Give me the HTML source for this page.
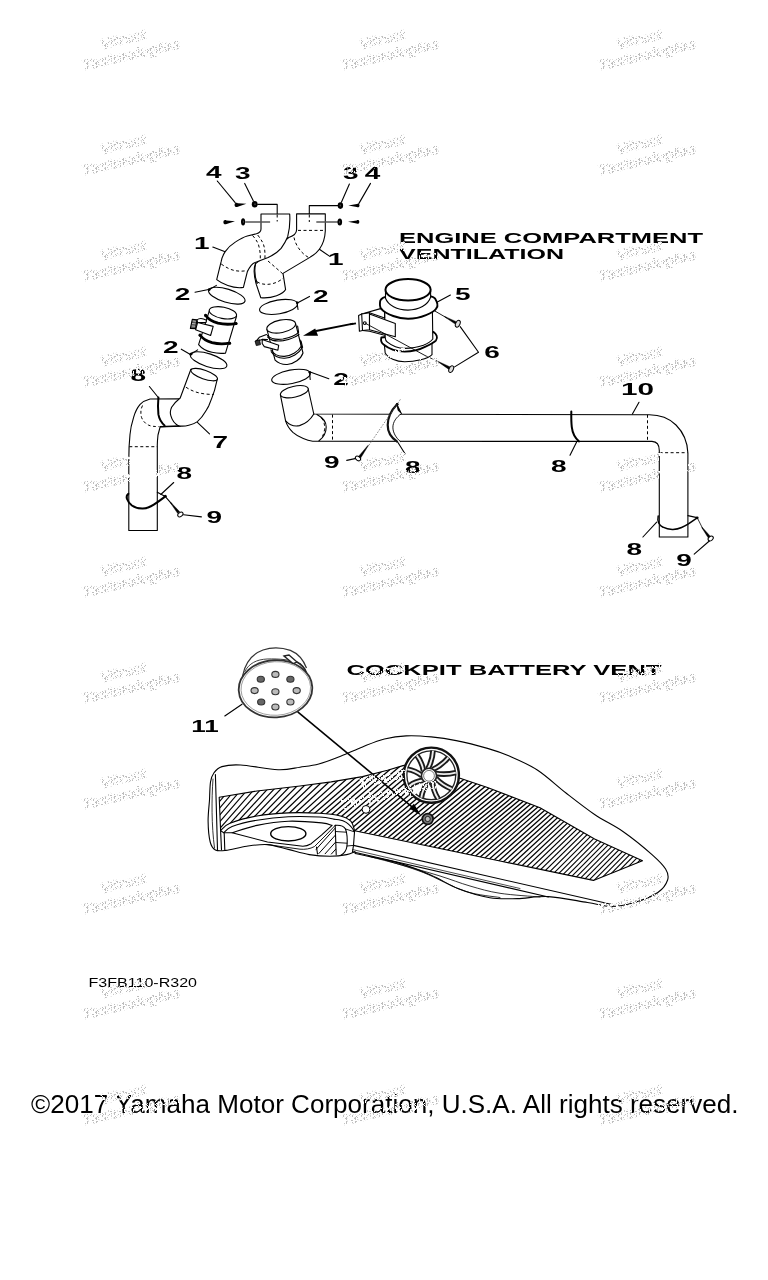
<!DOCTYPE html>
<html><head><meta charset="utf-8"><title>Engine Compartment Ventilation</title>
<style>
html,body{margin:0;padding:0;background:#fff;}
svg{display:block;filter:grayscale(1);font-family:"Liberation Sans",sans-serif;}
.l{fill:none;stroke:#000;stroke-width:1.1;stroke-linecap:round;stroke-linejoin:round;}
.t{fill:none;stroke:#000;stroke-width:2;stroke-linecap:round;stroke-linejoin:round;}
.d{fill:none;stroke:#000;stroke-width:1;stroke-dasharray:3 2.5;}
.f{fill:#fff;}
.n{font-weight:bold;font-size:16px;fill:#000;}
.h{font-weight:bold;font-size:14.5px;fill:#000;}
.w{fill:#c8c8c8;font-size:12px;font-weight:bold;}
</style></head><body>
<svg width="768" height="1280" viewBox="0 0 768 1280">
<rect width="768" height="1280" fill="#fff"/>
<defs><pattern id="dz" width="9" height="9" patternUnits="userSpaceOnUse" patternTransform="rotate(13)"><rect x="4" y="0" width="1" height="1" fill="#bcbcbc"/><rect x="3" y="1" width="1" height="1" fill="#bcbcbc"/><rect x="3" y="7" width="1" height="1" fill="#bcbcbc"/><rect x="5" y="4" width="1" height="1" fill="#bcbcbc"/><rect x="8" y="0" width="1" height="1" fill="#bcbcbc"/><rect x="0" y="2" width="1" height="1" fill="#bcbcbc"/><rect x="0" y="5" width="1" height="1" fill="#bcbcbc"/><rect x="2" y="2" width="1" height="1" fill="#bcbcbc"/><rect x="8" y="6" width="1" height="1" fill="#bcbcbc"/><rect x="1" y="3" width="1" height="1" fill="#bcbcbc"/><rect x="6" y="8" width="1" height="1" fill="#bcbcbc"/><rect x="4" y="5" width="1" height="1" fill="#bcbcbc"/><rect x="3" y="3" width="1" height="1" fill="#bcbcbc"/><rect x="5" y="6" width="1" height="1" fill="#bcbcbc"/><rect x="3" y="6" width="1" height="1" fill="#bcbcbc"/><rect x="0" y="7" width="1" height="1" fill="#bcbcbc"/><rect x="0" y="4" width="1" height="1" fill="#bcbcbc"/><rect x="2" y="1" width="1" height="1" fill="#bcbcbc"/><rect x="2" y="7" width="1" height="1" fill="#bcbcbc"/><rect x="1" y="5" width="1" height="1" fill="#bcbcbc"/><rect x="6" y="4" width="1" height="1" fill="#bcbcbc"/><rect x="7" y="3" width="1" height="1" fill="#bcbcbc"/><rect x="3" y="2" width="1" height="1" fill="#bcbcbc"/><rect x="4" y="1" width="1" height="1" fill="#bcbcbc"/><rect x="4" y="7" width="1" height="1" fill="#bcbcbc"/><rect x="3" y="8" width="1" height="1" fill="#bcbcbc"/><rect x="0" y="0" width="1" height="1" fill="#bcbcbc"/><rect x="5" y="8" width="1" height="1" fill="#bcbcbc"/><rect x="0" y="3" width="1" height="1" fill="#bcbcbc"/><rect x="1" y="4" width="1" height="1" fill="#bcbcbc"/><rect x="2" y="6" width="1" height="1" fill="#bcbcbc"/><rect x="7" y="2" width="1" height="1" fill="#bcbcbc"/><rect x="6" y="0" width="1" height="1" fill="#bcbcbc"/><rect x="7" y="5" width="1" height="1" fill="#bcbcbc"/></pattern><pattern id="dw" width="9" height="9" patternUnits="userSpaceOnUse" patternTransform="rotate(13)"><rect x="4" y="0" width="1" height="1" fill="#fff"/><rect x="5" y="4" width="1" height="1" fill="#fff"/><rect x="8" y="6" width="1" height="1" fill="#fff"/><rect x="2" y="2" width="1" height="1" fill="#fff"/><rect x="1" y="6" width="1" height="1" fill="#fff"/><rect x="2" y="5" width="1" height="1" fill="#fff"/><rect x="7" y="4" width="1" height="1" fill="#fff"/><rect x="6" y="2" width="1" height="1" fill="#fff"/><rect x="4" y="2" width="1" height="1" fill="#fff"/><rect x="4" y="8" width="1" height="1" fill="#fff"/><rect x="5" y="3" width="1" height="1" fill="#fff"/><rect x="8" y="2" width="1" height="1" fill="#fff"/><rect x="8" y="5" width="1" height="1" fill="#fff"/><rect x="0" y="1" width="1" height="1" fill="#fff"/><rect x="0" y="7" width="1" height="1" fill="#fff"/><rect x="2" y="4" width="1" height="1" fill="#fff"/><rect x="8" y="8" width="1" height="1" fill="#fff"/><rect x="2" y="1" width="1" height="1" fill="#fff"/><rect x="1" y="5" width="1" height="1" fill="#fff"/><rect x="6" y="1" width="1" height="1" fill="#fff"/><rect x="7" y="6" width="1" height="1" fill="#fff"/><rect x="4" y="7" width="1" height="1" fill="#fff"/><rect x="3" y="5" width="1" height="1" fill="#fff"/><rect x="5" y="2" width="1" height="1" fill="#fff"/><rect x="8" y="7" width="1" height="1" fill="#fff"/><rect x="0" y="3" width="1" height="1" fill="#fff"/><rect x="2" y="0" width="1" height="1" fill="#fff"/><rect x="1" y="4" width="1" height="1" fill="#fff"/><rect x="0" y="6" width="1" height="1" fill="#fff"/><rect x="2" y="6" width="1" height="1" fill="#fff"/><rect x="7" y="2" width="1" height="1" fill="#fff"/><rect x="7" y="5" width="1" height="1" fill="#fff"/></pattern></defs>
<g id="wm" fill="url(#dz)" stroke="url(#dz)" stroke-width="1" font-weight="bold" font-style="italic" text-anchor="middle">
<g transform="translate(129,47) rotate(-13)"><text x="-4" y="-4" font-size="14" textLength="46" lengthAdjust="spacingAndGlyphs">Vitract</text><text x="0" y="12.5" font-size="14" textLength="100" lengthAdjust="spacingAndGlyphs">Technologies</text></g>
<g transform="translate(388,47) rotate(-13)"><text x="-4" y="-4" font-size="14" textLength="46" lengthAdjust="spacingAndGlyphs">Vitract</text><text x="0" y="12.5" font-size="14" textLength="100" lengthAdjust="spacingAndGlyphs">Technologies</text></g>
<g transform="translate(645,47) rotate(-13)"><text x="-4" y="-4" font-size="14" textLength="46" lengthAdjust="spacingAndGlyphs">Vitract</text><text x="0" y="12.5" font-size="14" textLength="100" lengthAdjust="spacingAndGlyphs">Technologies</text></g>
<g transform="translate(129,152) rotate(-13)"><text x="-4" y="-4" font-size="14" textLength="46" lengthAdjust="spacingAndGlyphs">Vitract</text><text x="0" y="12.5" font-size="14" textLength="100" lengthAdjust="spacingAndGlyphs">Technologies</text></g>
<g transform="translate(388,152) rotate(-13)"><text x="-4" y="-4" font-size="14" textLength="46" lengthAdjust="spacingAndGlyphs">Vitract</text><text x="0" y="12.5" font-size="14" textLength="100" lengthAdjust="spacingAndGlyphs">Technologies</text></g>
<g transform="translate(645,152) rotate(-13)"><text x="-4" y="-4" font-size="14" textLength="46" lengthAdjust="spacingAndGlyphs">Vitract</text><text x="0" y="12.5" font-size="14" textLength="100" lengthAdjust="spacingAndGlyphs">Technologies</text></g>
<g transform="translate(129,258) rotate(-13)"><text x="-4" y="-4" font-size="14" textLength="46" lengthAdjust="spacingAndGlyphs">Vitract</text><text x="0" y="12.5" font-size="14" textLength="100" lengthAdjust="spacingAndGlyphs">Technologies</text></g>
<g transform="translate(388,258) rotate(-13)"><text x="-4" y="-4" font-size="14" textLength="46" lengthAdjust="spacingAndGlyphs">Vitract</text><text x="0" y="12.5" font-size="14" textLength="100" lengthAdjust="spacingAndGlyphs">Technologies</text></g>
<g transform="translate(645,258) rotate(-13)"><text x="-4" y="-4" font-size="14" textLength="46" lengthAdjust="spacingAndGlyphs">Vitract</text><text x="0" y="12.5" font-size="14" textLength="100" lengthAdjust="spacingAndGlyphs">Technologies</text></g>
<g transform="translate(129,364) rotate(-13)"><text x="-4" y="-4" font-size="14" textLength="46" lengthAdjust="spacingAndGlyphs">Vitract</text><text x="0" y="12.5" font-size="14" textLength="100" lengthAdjust="spacingAndGlyphs">Technologies</text></g>
<g transform="translate(388,364) rotate(-13)"><text x="-4" y="-4" font-size="14" textLength="46" lengthAdjust="spacingAndGlyphs">Vitract</text><text x="0" y="12.5" font-size="14" textLength="100" lengthAdjust="spacingAndGlyphs">Technologies</text></g>
<g transform="translate(645,364) rotate(-13)"><text x="-4" y="-4" font-size="14" textLength="46" lengthAdjust="spacingAndGlyphs">Vitract</text><text x="0" y="12.5" font-size="14" textLength="100" lengthAdjust="spacingAndGlyphs">Technologies</text></g>
<g transform="translate(129,469) rotate(-13)"><text x="-4" y="-4" font-size="14" textLength="46" lengthAdjust="spacingAndGlyphs">Vitract</text><text x="0" y="12.5" font-size="14" textLength="100" lengthAdjust="spacingAndGlyphs">Technologies</text></g>
<g transform="translate(388,469) rotate(-13)"><text x="-4" y="-4" font-size="14" textLength="46" lengthAdjust="spacingAndGlyphs">Vitract</text><text x="0" y="12.5" font-size="14" textLength="100" lengthAdjust="spacingAndGlyphs">Technologies</text></g>
<g transform="translate(645,469) rotate(-13)"><text x="-4" y="-4" font-size="14" textLength="46" lengthAdjust="spacingAndGlyphs">Vitract</text><text x="0" y="12.5" font-size="14" textLength="100" lengthAdjust="spacingAndGlyphs">Technologies</text></g>
<g transform="translate(129,574) rotate(-13)"><text x="-4" y="-4" font-size="14" textLength="46" lengthAdjust="spacingAndGlyphs">Vitract</text><text x="0" y="12.5" font-size="14" textLength="100" lengthAdjust="spacingAndGlyphs">Technologies</text></g>
<g transform="translate(388,574) rotate(-13)"><text x="-4" y="-4" font-size="14" textLength="46" lengthAdjust="spacingAndGlyphs">Vitract</text><text x="0" y="12.5" font-size="14" textLength="100" lengthAdjust="spacingAndGlyphs">Technologies</text></g>
<g transform="translate(645,574) rotate(-13)"><text x="-4" y="-4" font-size="14" textLength="46" lengthAdjust="spacingAndGlyphs">Vitract</text><text x="0" y="12.5" font-size="14" textLength="100" lengthAdjust="spacingAndGlyphs">Technologies</text></g>
<g transform="translate(129,680) rotate(-13)"><text x="-4" y="-4" font-size="14" textLength="46" lengthAdjust="spacingAndGlyphs">Vitract</text><text x="0" y="12.5" font-size="14" textLength="100" lengthAdjust="spacingAndGlyphs">Technologies</text></g>
<g transform="translate(388,680) rotate(-13)"><text x="-4" y="-4" font-size="14" textLength="46" lengthAdjust="spacingAndGlyphs">Vitract</text><text x="0" y="12.5" font-size="14" textLength="100" lengthAdjust="spacingAndGlyphs">Technologies</text></g>
<g transform="translate(645,680) rotate(-13)"><text x="-4" y="-4" font-size="14" textLength="46" lengthAdjust="spacingAndGlyphs">Vitract</text><text x="0" y="12.5" font-size="14" textLength="100" lengthAdjust="spacingAndGlyphs">Technologies</text></g>
<g transform="translate(129,786) rotate(-13)"><text x="-4" y="-4" font-size="14" textLength="46" lengthAdjust="spacingAndGlyphs">Vitract</text><text x="0" y="12.5" font-size="14" textLength="100" lengthAdjust="spacingAndGlyphs">Technologies</text></g>
<g transform="translate(388,786) rotate(-13)"><text x="-4" y="-4" font-size="14" textLength="46" lengthAdjust="spacingAndGlyphs">Vitract</text><text x="0" y="12.5" font-size="14" textLength="100" lengthAdjust="spacingAndGlyphs">Technologies</text></g>
<g transform="translate(645,786) rotate(-13)"><text x="-4" y="-4" font-size="14" textLength="46" lengthAdjust="spacingAndGlyphs">Vitract</text><text x="0" y="12.5" font-size="14" textLength="100" lengthAdjust="spacingAndGlyphs">Technologies</text></g>
<g transform="translate(129,891) rotate(-13)"><text x="-4" y="-4" font-size="14" textLength="46" lengthAdjust="spacingAndGlyphs">Vitract</text><text x="0" y="12.5" font-size="14" textLength="100" lengthAdjust="spacingAndGlyphs">Technologies</text></g>
<g transform="translate(388,891) rotate(-13)"><text x="-4" y="-4" font-size="14" textLength="46" lengthAdjust="spacingAndGlyphs">Vitract</text><text x="0" y="12.5" font-size="14" textLength="100" lengthAdjust="spacingAndGlyphs">Technologies</text></g>
<g transform="translate(645,891) rotate(-13)"><text x="-4" y="-4" font-size="14" textLength="46" lengthAdjust="spacingAndGlyphs">Vitract</text><text x="0" y="12.5" font-size="14" textLength="100" lengthAdjust="spacingAndGlyphs">Technologies</text></g>
<g transform="translate(129,996) rotate(-13)"><text x="-4" y="-4" font-size="14" textLength="46" lengthAdjust="spacingAndGlyphs">Vitract</text><text x="0" y="12.5" font-size="14" textLength="100" lengthAdjust="spacingAndGlyphs">Technologies</text></g>
<g transform="translate(388,996) rotate(-13)"><text x="-4" y="-4" font-size="14" textLength="46" lengthAdjust="spacingAndGlyphs">Vitract</text><text x="0" y="12.5" font-size="14" textLength="100" lengthAdjust="spacingAndGlyphs">Technologies</text></g>
<g transform="translate(645,996) rotate(-13)"><text x="-4" y="-4" font-size="14" textLength="46" lengthAdjust="spacingAndGlyphs">Vitract</text><text x="0" y="12.5" font-size="14" textLength="100" lengthAdjust="spacingAndGlyphs">Technologies</text></g>
<g transform="translate(129,1102) rotate(-13)"><text x="-4" y="-4" font-size="14" textLength="46" lengthAdjust="spacingAndGlyphs">Vitract</text><text x="0" y="12.5" font-size="14" textLength="100" lengthAdjust="spacingAndGlyphs">Technologies</text></g>
<g transform="translate(388,1102) rotate(-13)"><text x="-4" y="-4" font-size="14" textLength="46" lengthAdjust="spacingAndGlyphs">Vitract</text><text x="0" y="12.5" font-size="14" textLength="100" lengthAdjust="spacingAndGlyphs">Technologies</text></g>
<g transform="translate(645,1102) rotate(-13)"><text x="-4" y="-4" font-size="14" textLength="46" lengthAdjust="spacingAndGlyphs">Vitract</text><text x="0" y="12.5" font-size="14" textLength="100" lengthAdjust="spacingAndGlyphs">Technologies</text></g>
</g>


<g id="text">
<text class="h" x="399" y="243" textLength="304" lengthAdjust="spacingAndGlyphs">ENGINE COMPARTMENT</text>
<text class="h" x="399" y="258.8" textLength="165" lengthAdjust="spacingAndGlyphs">VENTILATION</text>
<text class="h" x="346.5" y="675" textLength="315" lengthAdjust="spacingAndGlyphs">COCKPIT BATTERY VENT</text>
<text x="88.5" y="987" font-size="13" textLength="108.5" lengthAdjust="spacingAndGlyphs">F3FB110-R320</text>
<text x="31" y="1112.5" font-size="25.6" textLength="707.5" lengthAdjust="spacingAndGlyphs">©2017 Yamaha Motor Corporation, U.S.A. All rights reserved.</text>
</g>
<g id="nums" class="n" text-anchor="middle">
<text transform="translate(213.9,178.3) scale(1.75,1)">4</text>
<text transform="translate(242.8,178.5) scale(1.75,1)">3</text>
<text transform="translate(350.9,178.8) scale(1.75,1)">3</text>
<text transform="translate(372.6,179.3) scale(1.75,1)">4</text>
<text transform="translate(201.7,249.1) scale(1.75,1)">1</text>
<text transform="translate(335.8,264.9) scale(1.75,1)">1</text>
<text transform="translate(182.6,300.4) scale(1.75,1)">2</text>
<text transform="translate(320.9,301.6) scale(1.75,1)">2</text>
<text transform="translate(170.9,352.5) scale(1.75,1)">2</text>
<text transform="translate(341.0,385.4) scale(1.75,1)">2</text>
<text transform="translate(138.3,380.9) scale(1.75,1)">8</text>
<text transform="translate(220.3,448.3) scale(1.75,1)">7</text>
<text transform="translate(184.2,479.3) scale(1.75,1)">8</text>
<text transform="translate(214.4,523.1) scale(1.75,1)">9</text>
<text transform="translate(331.9,468.4) scale(1.75,1)">9</text>
<text transform="translate(412.7,472.6) scale(1.75,1)">8</text>
<text transform="translate(462.9,299.6) scale(1.75,1)">5</text>
<text transform="translate(492.1,357.9) scale(1.75,1)">6</text>
<text x="621" y="395.2" text-anchor="start" textLength="33" lengthAdjust="spacingAndGlyphs">10</text>
<text transform="translate(558.8,472.0) scale(1.75,1)">8</text>
<text transform="translate(634.3,554.9) scale(1.75,1)">8</text>
<text transform="translate(684.0,566.3) scale(1.75,1)">9</text>
<text x="191.2" y="731.7" text-anchor="start" textLength="27.5" lengthAdjust="spacingAndGlyphs">11</text>
</g>

<g id="top">
<!-- right elbow (1) - behind -->
<path class="l f" d="M296.6,213.9 L325.3,213.9 L325.3,231 C325,238 323.5,243.5 319.4,249.3 C316,254 312,256 310.3,257.1 L283,273.4 L285.6,289.6 C283.5,294 272,298.8 260.8,297.7 L256.3,284.4 C253.6,275 253.5,268 255.6,263.6 L288.8,237.5 C293,236 296.6,233 296.6,229.7 Z"/>
<path class="d" d="M298,230.4 L325.3,230.4"/>
<path class="d" d="M294,237.5 C295.5,245 301,253.5 309,257.7"/>
<path class="d" d="M268,261 L283,274"/>
<path class="d" d="M257,281.8 C265,286.8 277,284 283.2,278"/>
<path class="l" d="M255.6,263.6 C254.2,270 254.8,277 257.2,283.5" stroke-width="1.6"/>
<!-- left elbow (1) - front -->
<path class="l f" d="M261,214 L289.7,214 C290.2,222 289.5,230 287.7,236.7 C285.5,242 283.5,245 281.1,248.4 C277,253 272.5,255.5 268.1,257.5 L256.4,262 C253.5,263 252.2,264 251.2,265.3 C249.5,267.5 248.2,269.5 247.3,271.8 L243.4,287.4 C238,288.2 232,287 227.8,285.5 C223,283.7 219,281.5 216.7,279.6 L221.2,261.4 C222,257 223.3,254.5 225.2,251.6 C228,247.5 231.5,244.5 235.6,241.9 C239.5,239.3 243,237.2 247.3,236 L256.4,233.8 C259.5,232.8 261,231 261,228.9 Z"/>
<path class="d" d="M252.5,235.4 C256.5,240 258.6,243.5 259.3,248 C260.2,252 260.4,255 260.3,259.5"/>
<path class="d" d="M257.7,235 C261.5,240 263.6,243.5 264.3,247.5 C265,251 265.1,255 264.9,258.5"/>
<path class="d" d="M221.2,264 C226,267.5 231,270 235.5,270.7 C239.5,271.4 243.5,271.3 247.3,270.5"/>
<!-- fastener leaders -->
<path class="l" d="M257.7,204.4 L277.2,204.4 L277.2,213.5"/>
<path class="d" d="M277.2,214.5 L277.2,221.5" stroke-dasharray="2 1.5"/>
<path d="M245.3,222 L270.1,222" stroke="#555" stroke-width="1.5" fill="none"/>
<path class="l" d="M338.4,205.6 L309.3,205.6 L309.3,213.5"/>
<path class="d" d="M309.3,214.5 L309.3,222" stroke-dasharray="2 1.5"/>
<path d="M316.3,222 L338.4,222" stroke="#555" stroke-width="1.5" fill="none"/>
<!-- nuts / washers -->
<g fill="#000" stroke="none">
<ellipse cx="254.7" cy="204.2" rx="2.9" ry="3.3"/>
<ellipse cx="243.1" cy="221.8" rx="2.1" ry="3.6"/>
<ellipse cx="340.4" cy="205.6" rx="2.7" ry="3.3"/>
<ellipse cx="339.8" cy="222" rx="2.3" ry="3.5"/>
</g>
<g fill="#555" stroke="none">
<ellipse cx="255" cy="204.2" rx="0.6" ry="1"/>
<ellipse cx="243.3" cy="221.8" rx="0.45" ry="1.3"/>
<ellipse cx="340.2" cy="205.6" rx="0.6" ry="1"/>
<ellipse cx="339.7" cy="222" rx="0.45" ry="1.3"/>
</g>
<!-- screws -->
<g stroke="none" fill="#000">
<path d="M234.6,205 C234.5,202.9 236.3,202.3 237.7,203.2 L246.4,203.8 L237.8,206.7 C236.3,207.4 234.6,206.9 234.6,205 Z"/>
<path d="M223.4,222.2 C223.3,220.1 225,219.6 226.5,220.4 L235,221.3 L226.6,224 C225,224.6 223.4,224.2 223.4,222.2 Z"/>
<path d="M359.5,205.6 C359.6,203.8 358.2,203.3 356.9,204 L348.3,205.4 L356.8,207.1 C358.2,207.7 359.5,207.3 359.5,205.6 Z"/>
<path d="M359.3,222 C359.4,220.2 358,219.7 356.7,220.4 L348,221.8 L356.6,223.5 C358,224.1 359.3,223.7 359.3,222 Z"/>
</g>
<!-- number leaders -->
<path class="l" d="M217.3,181 L235.2,202.6"/>
<path class="l" d="M244.7,183.4 L253.4,201"/>
<path class="l" d="M349.4,184 L341.4,202.3"/>
<path class="l" d="M370.5,183.4 L358.8,203.6"/>
<path class="l" d="M212.8,247.1 L224.5,251.6"/>
<path class="l" d="M319.4,249.3 L329.8,256.4"/>
</g>

<g id="mid">
<!-- rings (2) -->
<ellipse class="l" cx="226.8" cy="295.7" rx="19" ry="6.6" transform="rotate(17 226.8 295.7)"/>
<ellipse class="l" cx="278.5" cy="306.9" rx="19.2" ry="6.9" transform="rotate(-9.7 278.5 306.9)"/>
<ellipse class="l" cx="208.6" cy="360.3" rx="19.1" ry="6.5" transform="rotate(17.8 208.6 360.3)"/>
<ellipse class="l" cx="291" cy="376.8" rx="19.6" ry="6.8" transform="rotate(-10.6 291 376.8)"/>
<!-- ring leaders -->
<path class="l" d="M195,292.2 L208.6,289.5 M216.4,285.4 L208.6,290"/>
<circle cx="209.2" cy="289.6" r="1.4"/>
<path class="l" d="M309.5,296.4 L297.3,302.9 M297,302 L298,309.5"/>
<circle cx="297.2" cy="302.8" r="1.3"/>
<path class="l" d="M181.3,349.2 L190.4,354.4 M197.6,349.9 L190.4,354.6"/>
<circle cx="190.9" cy="354.2" r="1.4"/>
<path class="l" d="M328.8,378.8 L309.5,371.7 M309.5,371.7 L310.2,379.5"/>
<circle cx="309.7" cy="372.2" r="1.2"/>
<!-- left clamp -->
<path class="l f" d="M209.3,310.8 L198.6,344.7 C202,349 208,351.5 212,352.3 C217,353.5 222,353.6 225.5,353.1 L236.6,316 Z"/>
<ellipse class="l f" cx="222.9" cy="312.8" rx="13.9" ry="5.7" transform="rotate(11 222.9 312.8)"/>
<path class="t" d="M205.6,315.2 C208,319 213,321.8 218,323.2 C224,324.6 230,324.5 236,323.6" style="stroke-width:2.8"/>
<path class="t" d="M200,335 C202.5,338.5 207,341.2 212,342.7 C218,344.2 224,344.2 229.7,343.2" style="stroke-width:2.8"/>
<circle cx="205.6" cy="315.4" r="1.5"/><circle cx="236" cy="323.4" r="1.5"/>
<circle cx="200.1" cy="335.2" r="1.5"/><circle cx="229.6" cy="343.2" r="1.5"/>
<!-- left clamp bracket -->
<path class="l f" d="M196.9,319.9 C199,318.2 203,318.3 206.5,320.2 L206,322.5 L197.6,322.5 Z"/>
<path class="l f" d="M197.6,322.5 L213.2,326.4 L210.6,335.5 L195.6,329.7 Z"/>
<path class="l" d="M192.3,319.3 L196.9,319.9 L195.6,328.6 L190.4,328.4 Z" fill="#000" style="fill:#555"/>
<path class="l" d="M193,321 L195.5,321.3 M192.4,323.5 L195.2,323.8 M192,326 L194.8,326.2" stroke="#fff" style="stroke:#ddd;stroke-width:0.7"/>
<!-- right clamp -->
<path class="l f" d="M266.9,329.4 L275.1,360.2 C278,363 283,364.7 287.2,364.5 C294,364 301,359 303,353 L295.6,323.7 Z"/>
<ellipse class="l f" cx="281.2" cy="326.3" rx="14.6" ry="6.3" transform="rotate(-11.3 281.2 326.3)"/>
<path class="l" d="M267.2,335.4 C271,339 277,340 283,339 C290,337.6 296,335 298.6,332.4 L297.6,326"/>
<path class="l" d="M267.6,337 C271,340.6 277,341.6 283.3,340.6 C290,339.2 296,337 299,334.3" stroke-width="1.4"/>
<path class="l" d="M270.8,350 C274,354.5 279,356.6 284.4,356.4 C291,356 298,352 301.4,346 L300.1,340.1"/>
<path class="l" d="M271.2,351.8 C274,356.3 279,358.4 284.6,358.2 C291.5,357.8 299,353.5 302.6,347.3 L301,341" stroke-width="1.4"/>
<!-- right clamp bracket -->
<path class="l f" d="M266.5,334.6 L259.3,337.3 L255.7,341.6 L262.2,339.4 L267.5,339.5"/>
<path class="l f" d="M262.2,339.4 L278.7,345.2 L277.9,350.2 L264.3,346.6 L262.2,343.5 Z"/>
<path d="M255,341 L259.5,339.8 L260.5,344.6 L256.3,345.6 Z" fill="#333" stroke="#000" stroke-width="0.8"/>
<!-- arrow -->
<path d="M353.2,323.7 L316,331" stroke="#000" stroke-width="1.8" fill="none"/>
<path d="M303,335.8 L315.2,328.6 L318.1,335.8 Z" fill="#000"/>
</g>

<g id="lowerleft">
<!-- vertical pipe with elbow top -->
<path class="l f" d="M180.2,398.8 L150.1,399 C146,400 142.5,402 140.1,404.4 C137,408 135,412.5 133.6,417.3 C131.5,424 130.4,429 130,434.5 C129.2,442 128.8,450 128.8,460 L128.8,530.5 L157.3,530.5 L157.3,445 C157.3,441 157.6,439 158,435 L160.1,427 L180.2,426.2 Z"/>
<!-- part 7 elbow -->
<path class="l f" d="M190.9,369.3 L180.2,398 C177,400.5 174,403.5 171.6,407.3 C170,411 170,413.5 170.9,415.9 C172,420 175,424 178.7,425.9 C183,426.4 186,426 188.8,425.2 C192,424.4 195,423.4 197.4,421.6 C201,418.5 203.5,415 205.5,411.5 C207,409 208,407.5 208.8,405.8 C211,400.5 213,395 214.6,390.1 L217.4,378.6 Z"/>
<ellipse class="l f" cx="204.2" cy="374.6" rx="14" ry="4.4" transform="rotate(19.4 204.2 374.6)"/>
<path class="l" d="M178.7,425.9 L160,426.6"/>
<path class="d" d="M185.9,387.2 C191,390.5 196,392.4 201,393.3 C205.5,394.2 210,394.5 213.8,394.4"/>
<path class="d" d="M142.5,405.5 C140.5,409.5 140.5,413.5 141.5,417.3 C143,421.5 146,424 148.7,425.2 C151,426.2 154,426.6 159,426.6"/>
<path class="d" d="M129.3,446.7 L157.2,446.7"/>
<!-- band 8 top -->
<path class="t" d="M158.4,397.5 C157.8,404 157.8,409 158.4,414.4 C159.3,419.5 161.5,422.8 164.6,425.4" stroke-width="2.1"/>
<!-- band 8 bottom -->
<path class="t" d="M128.4,493.8 C126.5,495.5 126.3,497 126.9,498.8 C128,502 130,504 131.9,505.5 C135,507.6 139,508.7 142.8,508.6 C147,508.5 151,506.5 153.8,504.7 C158,502 162,499 164.7,496.9" stroke-width="2"/>
<circle cx="165.3" cy="496.3" r="1.5"/>
<path class="l" d="M157.3,492.2 L164.8,496.3"/>
<!-- screw 9 -->
<path class="l" d="M166.2,497.7 L171.7,503.9" stroke-width="0.8"/>
<path d="M170.3,502.7 L177.7,513.5 L179.7,511.7 L170.7,502.3 Z" fill="#000" stroke="#000" stroke-width="0.4" stroke-linejoin="round"/>
<ellipse cx="180.4" cy="514.5" rx="2.9" ry="2" transform="rotate(-35 180.4 514.5)" fill="#fff" stroke="#000" stroke-width="1"/>
<!-- leaders -->
<path class="l" d="M149.4,386.5 L158.7,398"/>
<path class="l" d="M197.4,422.3 L209.5,433.8"/>
<path class="l" d="M173.7,482.5 L160.8,494.5"/>
<path class="l" d="M183.6,514.8 L201.4,516.9"/>
</g>

<g id="lowerright">
<!-- pipe 10 body -->
<path class="l f" d="M280.4,394.8 L285.6,420.8 C287,425.5 289.5,429 292.9,432.3 C296,435 299.5,437 303.3,438.5 C306.5,439.8 309.5,440.7 312.7,441.3 L652,441.4 C657,441.6 659.3,444.5 659.3,450.5 L659.3,537 L687.9,537 L687.9,453.1 C687.5,442 683,432 676,425 C669,418.2 660,414.8 649.4,414.8 L313.8,414 L308.1,388.5 Z"/>
<ellipse class="l f" cx="294.3" cy="391.7" rx="14.2" ry="5.4" transform="rotate(-12.7 294.3 391.7)"/>
<path class="l" d="M285.6,420.8 C290,425.5 295,426.6 299.5,425.6 C305,424 310,420.5 313.8,414"/>
<path class="l" d="M316.9,414.6 C322.5,417.5 326.2,422 326.2,427.1 C326.2,432.5 323.5,437.5 319,440.8"/>
<path class="d" d="M321.5,418 C324,421 325,425 324.6,429.2 C324.2,433 323,436 320.8,439"/>
<path class="d" d="M332.5,414.6 L332.5,440.8"/>
<path class="d" d="M647.5,414.8 L647.5,441.2"/>
<path class="d" d="M659.6,452.7 L687.6,452.7"/>
<!-- band 8 (left) -->
<path d="M397.1,404.2 C391,410.5 387.8,417.5 387.7,425 C387.6,432 391,437.5 397.1,442.4 L401,442.4 C396,438 392.8,432.5 392.9,427.1 C393,422 396,417.5 401.4,413 Z" fill="#fff" stroke="none"/>
<path class="l" d="M401.4,413.6 C396,417.5 393,422 392.9,427.1 C392.8,432.5 396,438 400.6,441.7" style="stroke-width:0.9"/>
<path d="M397.1,404.2 C391,410.5 387.8,417.5 387.7,425 C387.6,432 391,437.5 397.1,441.7" fill="none" stroke="#111" stroke-width="2.2" stroke-linecap="round"/>
<path d="M396.8,403.8 L401.4,413.4 L398.2,410.5 Z" fill="#000" stroke="#000" stroke-width="0.9" stroke-linejoin="round"/>
<circle cx="397.2" cy="404.3" r="1.3"/>
<path d="M400.4,399.4 L368,446.5" fill="none" stroke="#555" stroke-width="0.7" stroke-dasharray="1.6 1.4"/>
<!-- screw 9 (mid) -->
<path d="M368.0,445.3 L358.5,456.4 L360.7,458.0 L368.4,445.5 Z" fill="#000" stroke="#000" stroke-width="0.4" stroke-linejoin="round"/>
<ellipse cx="358" cy="458.4" rx="2.9" ry="2" transform="rotate(35 358 458.4)" fill="#fff" stroke="#000" stroke-width="1"/>
<path class="l" d="M346.7,460.4 L355,458.6"/>
<path class="l" d="M398.1,442.7 L405,453.7"/>
<!-- band 8 (mid-right) -->
<path class="t" d="M571.3,411.5 C571.2,418 571.3,423 571.8,427.1 C572.5,433 575,438 579.1,441.4" stroke-width="2"/>
<path class="l" d="M576.5,442.2 L570,455.2"/>
<path class="l" d="M639,402.3 L632.4,414"/>
<!-- band 8 (bottom right) -->
<path class="t" d="M658.2,516 C657.6,518.8 657.9,521 658.7,523 C659.8,525.3 661.2,526.4 663,527.2 C666,528.8 669.5,529.5 673,529.4 C676,529.3 679,528.6 681.6,527.5 C684.3,526.4 686.5,525.2 688.8,523.7 L696.8,518.2" stroke-width="1.5" style="stroke-width:1.5"/>
<path class="l" d="M687.9,515.6 L697,517.6"/>
<circle cx="697.2" cy="517.8" r="1.4"/>
<path class="l" d="M656.7,522.1 L642.9,537"/>
<!-- screw 9 (right) -->
<path class="l" d="M697.5,518.2 L702.7,528.6" style="stroke-width:0.8"/>
<path d="M701.8,527.7 L708.3,538.0 L710.5,536.4 L702.2,527.3 Z" fill="#000" stroke="#000" stroke-width="0.4" stroke-linejoin="round"/>
<ellipse cx="710.7" cy="538.5" rx="2.9" ry="2" transform="rotate(-40 710.7 538.5)" fill="#fff" stroke="#000" stroke-width="1"/>
<path class="l" d="M709.3,541 L694.2,554.2"/>
</g>

<g id="part5">
<!-- bottom cylinder -->
<path d="M384.4,344 L385.2,353.1 C388,358 396,361.7 404.7,361.7 C415,361.7 428,359 432,354.7 L432,342 Z" fill="#fff"/>
<path class="l" d="M384.4,345 L385.2,353.1 C388,358 396,361.7 404.7,361.7 C415,361.7 428,359 432,354.7 L432,343.5"/>
<!-- lower flange -->
<path class="l f" d="M381.3,337.5 C380.5,341 381.5,343 383.6,344.5 C389,349 396,351.6 404.7,351.6 C412,351.6 419,350 425,346.9 C430,344.5 434,342.5 435.9,340.6 C437.3,339 437.3,337.5 436.7,335.9 C436,334 435,333 433.6,332 Z" style="stroke-width:1.8"/>
<!-- body -->
<path class="l f" d="M384.6,312 L385.2,337.5 C385.3,340 386,341.2 387.5,342.2 C392,346 398,348.4 404.7,348.4 C412,348.4 418,347.3 423.4,345.3 C428,343.3 431,341.2 432.8,339 L432.4,311 Z"/>
<!-- bracket -->
<path class="l f" d="M361.7,314 L380.5,308.6 L384.6,312 L384.6,318 L369.5,312.8 Z"/>
<path class="l f" d="M358.6,315.6 L361.7,314 L369.5,312.8 L369.5,329.7 L362.5,330.5 L359.4,331.3 Z"/>
<path class="l" d="M361.7,314 L362.5,330.5"/>
<path class="l f" d="M369.5,314 L395.3,323.4 L395.3,336.7 L369.5,329.7 Z"/>
<path class="l" d="M362.5,330.5 L369.5,331.2 L384.6,335.3"/>
<circle class="l" cx="364.8" cy="323.1" r="1.4"/>
<path class="l" d="M365.6,323.4 L425,355.5" style="stroke-width:0.9"/>
<path class="d" d="M425,355.5 L438,361.5" stroke-dasharray="1.5 1.5" style="stroke-width:0.8"/>
<!-- flange -->
<path class="l f" d="M385.5,296.9 C382,298 380,300 380,302.3 C379.6,305 380,306.5 380.5,307.8 C383,311.5 388,314.2 393.2,316 C398,317.8 403,318.7 408,318.75 C414,318.8 420,317.5 426,315.1 C431,313 434.5,311 436.1,308.7 C437.5,307 437.7,305.5 437.4,304.2 C437,301.5 436,300 435.2,298.7 C434,297.3 432.5,296.7 431.1,296.4 Z" style="stroke-width:1.9"/>
<!-- top cylinder -->
<path class="l f" d="M385.5,291 L385.5,298.2 C388,305 397,310.1 408,310.1 C419,310.1 428,305 430.6,297.3 L430.6,291 Z"/>
<ellipse class="l f" cx="408.05" cy="289.8" rx="22.6" ry="10.7" style="stroke-width:2"/>
<!-- screws 6 -->
<path class="l" d="M435.2,311.2 L446.9,318" style="stroke-width:0.9"/>
<path d="M444.5,316.8 L455.5,324.3 L456.9,321.9 L444.7,316.4 Z" fill="#000" stroke="#000" stroke-width="0.4" stroke-linejoin="round"/>
<ellipse cx="457.8" cy="323.8" rx="2.1" ry="3.6" transform="rotate(25 457.8 323.8)" fill="#ddd" stroke="#000" stroke-width="1"/>
<path d="M438.2,361.9 L448.9,369.4 L450.3,367.0 L438.4,361.5 Z" fill="#000" stroke="#000" stroke-width="0.4" stroke-linejoin="round"/>
<ellipse cx="451.2" cy="369.1" rx="2.1" ry="3.6" transform="rotate(25 451.2 369.1)" fill="#ddd" stroke="#000" stroke-width="1"/>
<!-- leaders -->
<path class="l" d="M450.4,295 L436.9,302.3"/>
<path class="l" d="M460.2,326.6 L478.5,352.3 L454.6,366.9"/>
<path d="M356,323.3 L350,324.4" stroke="#000" stroke-width="1.8" fill="none"/>
</g>

<g id="vent">
<path d="M242.5,676 C245,664 252,654 263,650 C272,647 282,647.5 290.4,650.4 C298,653.5 303,659 306.5,668" fill="#fff" stroke="#333" stroke-width="1.2"/>
<path d="M244.5,672 C249,663 257,659.5 267,659 C279,658.6 292,659.5 301,664" fill="none" stroke="#444" stroke-width="1"/>
<ellipse cx="275.5" cy="688.8" rx="36.8" ry="28.6" transform="rotate(-3 275.5 688.8)" fill="#fff" stroke="#333" stroke-width="1.8"/>
<ellipse cx="275.8" cy="688.5" rx="34.8" ry="26.8" transform="rotate(-3 275.8 688.5)" fill="none" stroke="#777" stroke-width="0.7"/>
<path d="M284,656 L289,655 L297,662 L293,663.5 Z" fill="#fff" stroke="#222" stroke-width="1.3"/>
<path d="M297,662 C302,665 305,668 306,672" fill="none" stroke="#222" stroke-width="1.6"/>
<ellipse cx="275.4" cy="691.7" rx="3.6" ry="3" fill="#bbb" stroke="#333" stroke-width="1.1"/>
<ellipse cx="275.4" cy="674.4" rx="3.6" ry="3" fill="#bbb" stroke="#333" stroke-width="1.1"/>
<ellipse cx="290.4" cy="679.2" rx="3.6" ry="3" fill="#666" stroke="#333" stroke-width="1.1"/>
<ellipse cx="296.7" cy="690.6" rx="3.6" ry="3" fill="#bbb" stroke="#333" stroke-width="1.1"/>
<ellipse cx="290.4" cy="702.0" rx="3.6" ry="3" fill="#bbb" stroke="#333" stroke-width="1.1"/>
<ellipse cx="275.4" cy="707.0" rx="3.6" ry="3" fill="#bbb" stroke="#333" stroke-width="1.1"/>
<ellipse cx="261.2" cy="702.0" rx="3.6" ry="3" fill="#666" stroke="#333" stroke-width="1.1"/>
<ellipse cx="254.6" cy="690.6" rx="3.6" ry="3" fill="#bbb" stroke="#333" stroke-width="1.1"/>
<ellipse cx="260.8" cy="679.2" rx="3.6" ry="3" fill="#666" stroke="#333" stroke-width="1.1"/>
<path class="l" d="M224.8,716 L242,704.2"/>
</g>

<g id="seat">
<path class="l" d="M209.5,800.0 C209.7,797.0 209.8,786.5 210.5,782.0 C211.2,777.5 212.1,775.4 214.0,772.8 C215.9,770.2 217.5,767.9 221.9,766.6 C226.3,765.3 231.2,764.5 240.6,765.0 C249.9,765.5 268.1,769.3 278.0,769.7 C287.9,770.1 293.2,768.2 300.0,767.2 C306.8,766.2 312.0,765.8 318.8,764.0 C325.5,762.2 333.3,759.1 340.6,756.2 C347.9,753.4 355.2,749.8 362.5,746.9 C369.8,744.0 377.1,740.8 384.4,739.0 C391.7,737.2 398.4,736.2 406.2,735.9 C414.1,735.5 422.9,736.1 431.2,736.9 C439.6,737.7 446.9,738.7 456.2,740.6 C465.6,742.5 478.8,745.9 487.5,748.4 C496.2,750.9 500.4,752.2 508.7,755.8 C517.0,759.4 527.8,763.8 537.3,770.0 C546.8,776.2 556.5,785.6 566.0,793.0 C575.5,800.4 585.1,808.0 594.6,814.5 C604.1,821.0 613.7,825.0 623.3,831.7 C632.9,838.4 645.0,848.4 652.0,854.6 C659.0,860.8 663.0,864.8 665.6,869.0 C668.2,873.2 668.9,876.1 667.6,880.0 C666.3,883.9 663.3,888.8 657.8,892.5 C652.3,896.2 642.2,900.2 634.4,902.5 C626.6,904.8 618.8,906.4 611.0,906.4 C603.2,906.4 597.9,904.1 587.5,902.5 C577.1,900.9 560.1,897.2 548.4,896.6 C536.7,896.0 527.0,898.4 517.2,898.6 C507.4,898.8 499.6,899.4 489.8,897.8 C480.0,896.2 468.4,892.6 458.6,888.8 C448.8,885.0 441.0,879.4 431.2,875.2 C421.5,871.0 410.0,866.5 400.0,863.4 C390.0,860.3 378.8,858.5 371.2,856.9 C363.8,855.2 357.7,854.1 355.0,853.5"/>
<path class="l" d="M209.5,800.0 C209.3,803.5 208.0,814.2 208.1,821.2 C208.2,828.2 209.0,837.2 210.2,842.0 C211.4,846.8 212.8,848.6 215.4,850.0 C218.0,851.4 220.6,851.0 225.8,850.4 C231.0,849.8 239.8,847.2 246.7,846.2 C253.6,845.3 260.6,844.1 267.5,844.6 C274.4,845.1 281.4,847.7 288.3,849.4 C295.2,851.1 302.2,853.5 309.2,854.6 C316.1,855.7 323.8,856.2 330.0,856.2 C336.2,856.2 342.5,855.4 346.7,854.6 C350.9,853.8 353.6,852.0 355.0,851.5"/>
<path class="l" d="M215.4,774.5 L217.5,849.6" />
<path class="l" d="M213,779 C211.5,800 211.5,825 214.5,848" style="stroke-width:0.8"/>
<clipPath id="hc"><path d="M219.2,797.3 L257.0,791.0 L300.0,786.0 L331.2,781.9 L362.5,776.6 L387.5,770.3 L403.0,765.6 L425.0,762.0 L445.0,770.0 L459.4,778.1 L487.5,787.5 L540.0,807.8 L594.6,838.9 L642.5,860.8 L593.4,880.4 L500.0,861.0 L354.6,830.8 C354.0,829.2 353.2,823.7 350.8,821.2 C348.4,818.8 345.6,817.3 340.4,816.0 C335.2,814.7 328.3,813.8 319.6,813.3 C310.9,812.8 298.7,812.4 288.3,812.9 C277.9,813.4 266.7,814.3 257.0,816.0 C247.3,817.7 236.1,820.9 230.0,823.3 C223.9,825.7 222.2,829.4 220.6,830.6 Z"/></clipPath>
<path d="M219.2,797.3 L257.0,791.0 L300.0,786.0 L331.2,781.9 L362.5,776.6 L387.5,770.3 L403.0,765.6 L425.0,762.0 L445.0,770.0 L459.4,778.1 L487.5,787.5 L540.0,807.8 L594.6,838.9 L642.5,860.8 L593.4,880.4 L500.0,861.0 L354.6,830.8 C354.0,829.2 353.2,823.7 350.8,821.2 C348.4,818.8 345.6,817.3 340.4,816.0 C335.2,814.7 328.3,813.8 319.6,813.3 C310.9,812.8 298.7,812.4 288.3,812.9 C277.9,813.4 266.7,814.3 257.0,816.0 C247.3,817.7 236.1,820.9 230.0,823.3 C223.9,825.7 222.2,829.4 220.6,830.6 Z" fill="#fff"/>
<g clip-path="url(#hc)" stroke="#000" fill="none">
<path d="M60.0,937.2 L240.0,722.8" stroke-width="1.10"/>
<path d="M65.7,937.2 L245.7,722.8" stroke-width="1.10"/>
<path d="M71.4,937.2 L251.4,722.8" stroke-width="1.10"/>
<path d="M77.1,937.2 L257.1,722.8" stroke-width="1.10"/>
<path d="M82.8,937.2 L262.8,722.8" stroke-width="1.10"/>
<path d="M88.5,937.2 L268.5,722.8" stroke-width="1.10"/>
<path d="M94.2,937.2 L274.2,722.8" stroke-width="1.10"/>
<path d="M99.9,937.2 L279.9,722.8" stroke-width="1.10"/>
<path d="M105.6,937.2 L285.6,722.8" stroke-width="1.10"/>
<path d="M111.3,937.2 L291.3,722.8" stroke-width="1.10"/>
<path d="M116.6,936.9 L297.4,723.1" stroke-width="1.10"/>
<path d="M121.3,936.0 L304.1,724.0" stroke-width="1.12"/>
<path d="M126.0,935.1 L310.9,724.9" stroke-width="1.13"/>
<path d="M130.7,934.2 L317.7,725.8" stroke-width="1.14"/>
<path d="M135.4,933.2 L324.6,726.8" stroke-width="1.16"/>
<path d="M140.2,932.3 L331.4,727.7" stroke-width="1.17"/>
<path d="M145.0,931.3 L338.3,728.7" stroke-width="1.18"/>
<path d="M149.8,930.3 L345.2,729.7" stroke-width="1.19"/>
<path d="M154.7,929.3 L352.1,730.7" stroke-width="1.21"/>
<path d="M159.6,928.2 L359.0,731.8" stroke-width="1.22"/>
<path d="M164.5,927.2 L366.0,732.8" stroke-width="1.23"/>
<path d="M169.5,926.2 L373.0,733.8" stroke-width="1.25"/>
<path d="M174.4,925.1 L380.0,734.9" stroke-width="1.26"/>
<path d="M179.5,924.0 L387.0,736.0" stroke-width="1.27"/>
<path d="M184.5,922.9 L394.0,737.1" stroke-width="1.29"/>
<path d="M189.7,921.8 L401.0,738.2" stroke-width="1.30"/>
<path d="M195.7,921.7 L407.2,738.3" stroke-width="1.30"/>
<path d="M201.6,921.6 L413.4,738.4" stroke-width="1.31"/>
<path d="M207.6,921.4 L419.6,738.6" stroke-width="1.31"/>
<path d="M213.5,921.3 L425.8,738.7" stroke-width="1.31"/>
<path d="M219.5,921.2 L431.9,738.8" stroke-width="1.32"/>
<path d="M225.4,921.0 L438.1,739.0" stroke-width="1.32"/>
<path d="M231.3,920.9 L444.2,739.1" stroke-width="1.33"/>
<path d="M237.2,920.8 L450.3,739.2" stroke-width="1.33"/>
<path d="M243.0,920.6 L456.4,739.4" stroke-width="1.33"/>
<path d="M248.9,920.5 L462.5,739.5" stroke-width="1.34"/>
<path d="M254.7,920.4 L468.6,739.6" stroke-width="1.34"/>
<path d="M260.6,920.3 L474.6,739.7" stroke-width="1.34"/>
<path d="M266.4,920.1 L480.7,739.9" stroke-width="1.35"/>
<path d="M272.2,920.0 L486.7,740.0" stroke-width="1.35"/>
<path d="M278.0,919.9 L492.7,740.1" stroke-width="1.35"/>
<path d="M283.8,919.7 L498.7,740.3" stroke-width="1.36"/>
<path d="M289.5,919.6 L504.7,740.4" stroke-width="1.36"/>
<path d="M295.3,919.5 L510.6,740.5" stroke-width="1.36"/>
<path d="M301.0,919.3 L516.6,740.7" stroke-width="1.37"/>
<path d="M306.7,919.2 L522.5,740.8" stroke-width="1.37"/>
<path d="M312.4,919.1 L528.4,740.9" stroke-width="1.37"/>
<path d="M318.1,919.0 L534.4,741.0" stroke-width="1.38"/>
<path d="M323.8,918.8 L540.3,741.2" stroke-width="1.38"/>
<path d="M329.5,918.7 L546.1,741.3" stroke-width="1.38"/>
<path d="M335.1,918.6 L552.0,741.4" stroke-width="1.39"/>
<path d="M340.8,918.4 L557.9,741.6" stroke-width="1.39"/>
<path d="M346.4,918.3 L563.7,741.7" stroke-width="1.39"/>
<path d="M352.0,918.2 L569.5,741.8" stroke-width="1.40"/>
<path d="M357.8,918.3 L575.1,741.7" stroke-width="1.39"/>
<path d="M363.9,918.7 L580.5,741.3" stroke-width="1.38"/>
<path d="M369.9,919.2 L585.8,740.8" stroke-width="1.37"/>
<path d="M375.9,919.6 L591.0,740.4" stroke-width="1.36"/>
<path d="M381.9,920.0 L596.3,740.0" stroke-width="1.35"/>
<path d="M387.9,920.5 L601.5,739.5" stroke-width="1.34"/>
<path d="M393.8,920.9 L606.7,739.1" stroke-width="1.33"/>
<path d="M399.7,921.3 L611.9,738.7" stroke-width="1.31"/>
<path d="M405.6,921.7 L617.1,738.3" stroke-width="1.30"/>
<path d="M411.5,922.2 L622.2,737.8" stroke-width="1.29"/>
<path d="M417.3,922.6 L627.4,737.4" stroke-width="1.28"/>
<path d="M423.1,923.0 L632.5,737.0" stroke-width="1.27"/>
<path d="M429.0,923.4 L637.5,736.6" stroke-width="1.26"/>
<path d="M434.8,923.8 L642.6,736.2" stroke-width="1.25"/>
<path d="M440.6,924.3 L647.5,735.7" stroke-width="1.23"/>
<path d="M446.4,924.8 L652.4,735.2" stroke-width="1.22"/>
<path d="M452.2,925.3 L657.3,734.7" stroke-width="1.20"/>
<path d="M458.0,925.8 L662.2,734.2" stroke-width="1.19"/>
<path d="M463.8,926.3 L667.1,733.7" stroke-width="1.18"/>
<path d="M469.6,926.8 L671.9,733.2" stroke-width="1.16"/>
<path d="M475.3,927.2 L676.8,732.8" stroke-width="1.15"/>
<path d="M481.0,927.7 L681.6,732.3" stroke-width="1.14"/>
<path d="M486.7,928.2 L686.4,731.8" stroke-width="1.12"/>
<path d="M492.4,928.6 L691.2,731.4" stroke-width="1.11"/>
<path d="M498.0,929.0 L696.0,731.0" stroke-width="1.10"/>
<path d="M503.3,929.1 L701.1,730.9" stroke-width="1.10"/>
<path d="M508.6,929.2 L706.2,730.8" stroke-width="1.09"/>
<path d="M513.9,929.3 L711.3,730.7" stroke-width="1.09"/>
<path d="M519.1,929.4 L716.4,730.6" stroke-width="1.09"/>
<path d="M524.4,929.4 L721.5,730.6" stroke-width="1.09"/>
<path d="M529.7,929.5 L726.6,730.5" stroke-width="1.08"/>
<path d="M534.9,929.6 L731.7,730.4" stroke-width="1.08"/>
<path d="M540.2,929.7 L736.7,730.3" stroke-width="1.08"/>
<path d="M545.4,929.8 L741.8,730.2" stroke-width="1.08"/>
<path d="M550.7,929.9 L746.9,730.1" stroke-width="1.07"/>
<path d="M555.9,930.0 L751.9,730.0" stroke-width="1.07"/>
<path d="M561.1,930.0 L757.0,730.0" stroke-width="1.07"/>
<path d="M566.3,930.1 L762.1,729.9" stroke-width="1.07"/>
<path d="M571.6,930.2 L767.1,729.8" stroke-width="1.06"/>
<path d="M576.8,930.3 L772.1,729.7" stroke-width="1.06"/>
<path d="M582.0,930.4 L777.2,729.6" stroke-width="1.06"/>
<path d="M587.2,930.5 L782.2,729.5" stroke-width="1.06"/>
<path d="M592.4,930.5 L787.2,729.5" stroke-width="1.05"/>
<path d="M597.6,930.6 L792.3,729.4" stroke-width="1.05"/>
<path d="M602.8,930.7 L797.3,729.3" stroke-width="1.05"/>
<path d="M607.9,930.7 L802.4,729.3" stroke-width="1.05"/>
<path d="M613.0,930.7 L807.5,729.3" stroke-width="1.05"/>
<path d="M618.1,930.7 L812.6,729.3" stroke-width="1.05"/>
<path d="M623.2,930.7 L817.7,729.3" stroke-width="1.05"/>
<path d="M628.3,930.7 L822.8,729.3" stroke-width="1.05"/>
<path d="M633.4,930.7 L827.9,729.3" stroke-width="1.05"/>
<path d="M638.5,930.7 L833.0,729.3" stroke-width="1.05"/>
<path d="M643.6,930.7 L838.1,729.3" stroke-width="1.05"/>
<path d="M648.7,930.7 L843.2,729.3" stroke-width="1.05"/>
<path d="M653.8,930.7 L848.3,729.3" stroke-width="1.05"/>
<path d="M658.9,930.7 L853.4,729.3" stroke-width="1.05"/>
</g>
<path class="l" d="M219.2,797.3 L257.0,791.0 L300.0,786.0 L331.2,781.9 L362.5,776.6 L387.5,770.3 L403.0,765.6 L425.0,762.0 L445.0,770.0 L459.4,778.1 L487.5,787.5 L540.0,807.8 L594.6,838.9 L642.5,860.8 L593.4,880.4 L500.0,861.0 L354.6,830.8 C354.0,829.2 353.2,823.7 350.8,821.2 C348.4,818.8 345.6,817.3 340.4,816.0 C335.2,814.7 328.3,813.8 319.6,813.3 C310.9,812.8 298.7,812.4 288.3,812.9 C277.9,813.4 266.7,814.3 257.0,816.0 C247.3,817.7 236.1,820.9 230.0,823.3 C223.9,825.7 222.2,829.4 220.6,830.6 Z"/>
<circle cx="366" cy="809.4" r="3.9" fill="#fff" stroke="#000" stroke-width="1"/>
<circle cx="427.7" cy="819" r="5.4" fill="#777" stroke="#111" stroke-width="1.7"/>
<circle cx="427.7" cy="819" r="2.6" fill="#bbb" stroke="#222" stroke-width="1"/>
<path class="l" d="M354.6,830.8 L353.5,845.4 L352.5,851.7"/>
<path class="l" d="M353.5,845.4 L611,904.3"/>
<path class="l" d="M352.5,851.7 L548.4,897"/>
<path class="l" d="M352.8,849.6 L520,888.5" style="stroke-width:0.7"/>
<path class="l" d="M371.0,856.9 C376.2,858.3 391.0,862.0 402.5,865.2 C414.0,868.4 428.8,872.5 440.0,876.0 C451.2,879.5 460.0,883.1 470.0,886.0 C480.0,888.9 488.3,891.5 500.0,893.3 C511.7,895.1 533.3,896.4 540.0,897.0" style="stroke-width:0.8"/>
<path class="l" d="M385.0,860.0 C391.4,862.1 410.0,867.3 423.3,872.5 C436.6,877.7 452.2,887.1 465.0,891.2 C477.8,895.4 494.2,896.5 500.0,897.5" style="stroke-width:0.8"/>
<path class="l" d="M223.8,832.7 C225.1,831.7 226.6,828.6 232.1,826.5 C237.6,824.4 247.6,821.8 257.0,820.2 C266.4,818.6 277.9,817.2 288.3,816.7 C298.7,816.2 312.0,816.6 319.6,817.0 C327.2,817.4 331.8,818.8 334.2,819.2"/>
<path class="l" d="M220.6,830.6 L221.5,849.8 M220.6,830.6 L223.75,832.7 L232.1,832.7 M224.2,833 L224.8,850"/>
<path class="l f" d="M232.1,832.7 C236.2,831.5 247.6,827.3 257.0,825.4 C266.4,823.5 277.5,821.7 288.3,821.2 C299.1,820.8 314.4,822.2 321.7,822.9 C329.0,823.6 330.4,825.0 332.1,825.4 L321.7,834.8 L311.2,843.7 C308,845.5 305,846.2 302.9,846.25 L267.5,842 Z"/>
<path class="l" d="M335.2,825.4 L325,836 L314.5,846.5 C310,849 305,849.6 300,849.2 L267.5,844.6" style="stroke-width:0.9"/>
<ellipse class="l f" cx="288.3" cy="833.8" rx="17.6" ry="7.2" style="stroke-width:1.4"/>
<clipPath id="hc2"><path d="M335.2,825.4 L336.2,854.6 L317,853.8 L314.5,846.5 L325,836 Z"/></clipPath>
<g clip-path="url(#hc2)" stroke="#000" stroke-width="1">
<path d="M267.5,860 L303.5,820"/>
<path d="M274.0,860 L310.0,820"/>
<path d="M280.5,860 L316.5,820"/>
<path d="M287.0,860 L323.0,820"/>
<path d="M293.5,860 L329.5,820"/>
<path d="M300.0,860 L336.0,820"/>
<path d="M306.5,860 L342.5,820"/>
<path d="M313.0,860 L349.0,820"/>
<path d="M319.5,860 L355.5,820"/>
<path d="M326.0,860 L362.0,820"/>
<path d="M332.5,860 L368.5,820"/>
<path d="M339.0,860 L375.0,820"/>
<path d="M345.5,860 L381.5,820"/>
<path d="M352.0,860 L388.0,820"/>
<path d="M358.5,860 L394.5,820"/>
<path d="M365.0,860 L401.0,820"/>
<path d="M371.5,860 L407.5,820"/>
</g>
<path class="l" d="M335.2,825.4 L336.2,854.6 M316.5,847 L317.5,854"/>
<path class="l" d="M334.2,819.2 C340,819.5 346,821.5 348.75,824.4 C352,827.5 353.8,830 354,831.7"/>
<path class="l" d="M335.2,825.4 C340,825 344,826.5 345.5,829 C347,833 347.5,840 347,846 C346.5,850 344,853.5 341,855.3"/>
<path class="l" d="M335.5,831.5 L346.3,832.2 M336,842.5 L347,843.2" style="stroke-width:0.9"/>
<path class="l" d="M347,846 L353.5,845.4 M345.5,829 L354,831.7" style="stroke-width:0.9"/>
<circle cx="431.3" cy="775.2" r="27.6" fill="#fff" stroke="#111" stroke-width="2.4"/>
<circle cx="431.3" cy="775.2" r="24.4" fill="none" stroke="#222" stroke-width="1.3"/>
<path d="M427.8,768.9 Q432.6,760.1 433.0,750.7" stroke="#1a1a1a" stroke-width="5.6" fill="none"/>
<path d="M427.8,768.9 Q432.6,760.1 433.0,750.7" stroke="#eee" stroke-width="1.9" fill="none"/>
<path d="M432.5,769.7 Q441.9,765.3 448.4,757.5" stroke="#1a1a1a" stroke-width="5.6" fill="none"/>
<path d="M432.5,769.7 Q441.9,765.3 448.4,757.5" stroke="#eee" stroke-width="1.9" fill="none"/>
<path d="M435.6,773.4 Q445.7,775.2 455.8,772.6" stroke="#1a1a1a" stroke-width="5.6" fill="none"/>
<path d="M435.6,773.4 Q445.7,775.2 455.8,772.6" stroke="#eee" stroke-width="1.9" fill="none"/>
<path d="M435.6,778.2 Q442.3,785.3 451.7,789.0" stroke="#1a1a1a" stroke-width="5.6" fill="none"/>
<path d="M435.6,778.2 Q442.3,785.3 451.7,789.0" stroke="#eee" stroke-width="1.9" fill="none"/>
<path d="M432.5,781.9 Q433.1,790.8 438.1,798.8" stroke="#1a1a1a" stroke-width="5.6" fill="none"/>
<path d="M432.5,781.9 Q433.1,790.8 438.1,798.8" stroke="#eee" stroke-width="1.9" fill="none"/>
<path d="M427.8,782.7 Q422.6,789.1 421.3,797.7" stroke="#1a1a1a" stroke-width="5.6" fill="none"/>
<path d="M427.8,782.7 Q422.6,789.1 421.3,797.7" stroke="#eee" stroke-width="1.9" fill="none"/>
<path d="M423.6,780.3 Q415.6,781.1 409.2,786.0" stroke="#1a1a1a" stroke-width="5.6" fill="none"/>
<path d="M423.6,780.3 Q415.6,781.1 409.2,786.0" stroke="#eee" stroke-width="1.9" fill="none"/>
<path d="M422.0,775.8 Q415.4,770.4 407.4,769.2" stroke="#1a1a1a" stroke-width="5.6" fill="none"/>
<path d="M422.0,775.8 Q415.4,770.4 407.4,769.2" stroke="#eee" stroke-width="1.9" fill="none"/>
<path d="M423.6,771.3 Q422.1,762.2 416.8,755.3" stroke="#1a1a1a" stroke-width="5.6" fill="none"/>
<path d="M423.6,771.3 Q422.1,762.2 416.8,755.3" stroke="#eee" stroke-width="1.9" fill="none"/>
<circle cx="429.0" cy="775.8" r="7.6" fill="#fff" stroke="#222" stroke-width="1.6"/>
<circle cx="429.0" cy="775.8" r="5.4" fill="#fff" stroke="#555" stroke-width="0.8"/>
<path d="M297.7,711.9 L412,806.8" stroke="#000" stroke-width="1.6" fill="none"/>
<path d="M421,815.5 L409.3,808.4 L413.9,803.8 Z" fill="#000"/>
</g>

<g id="wm2" fill="url(#dw)" stroke="url(#dw)" stroke-width="1" font-weight="bold" font-style="italic" text-anchor="middle">
<g transform="translate(129,47) rotate(-13)"><text x="-4" y="-4" font-size="14" textLength="46" lengthAdjust="spacingAndGlyphs">Vitract</text><text x="0" y="12.5" font-size="14" textLength="100" lengthAdjust="spacingAndGlyphs">Technologies</text></g>
<g transform="translate(388,47) rotate(-13)"><text x="-4" y="-4" font-size="14" textLength="46" lengthAdjust="spacingAndGlyphs">Vitract</text><text x="0" y="12.5" font-size="14" textLength="100" lengthAdjust="spacingAndGlyphs">Technologies</text></g>
<g transform="translate(645,47) rotate(-13)"><text x="-4" y="-4" font-size="14" textLength="46" lengthAdjust="spacingAndGlyphs">Vitract</text><text x="0" y="12.5" font-size="14" textLength="100" lengthAdjust="spacingAndGlyphs">Technologies</text></g>
<g transform="translate(129,152) rotate(-13)"><text x="-4" y="-4" font-size="14" textLength="46" lengthAdjust="spacingAndGlyphs">Vitract</text><text x="0" y="12.5" font-size="14" textLength="100" lengthAdjust="spacingAndGlyphs">Technologies</text></g>
<g transform="translate(388,152) rotate(-13)"><text x="-4" y="-4" font-size="14" textLength="46" lengthAdjust="spacingAndGlyphs">Vitract</text><text x="0" y="12.5" font-size="14" textLength="100" lengthAdjust="spacingAndGlyphs">Technologies</text></g>
<g transform="translate(645,152) rotate(-13)"><text x="-4" y="-4" font-size="14" textLength="46" lengthAdjust="spacingAndGlyphs">Vitract</text><text x="0" y="12.5" font-size="14" textLength="100" lengthAdjust="spacingAndGlyphs">Technologies</text></g>
<g transform="translate(129,258) rotate(-13)"><text x="-4" y="-4" font-size="14" textLength="46" lengthAdjust="spacingAndGlyphs">Vitract</text><text x="0" y="12.5" font-size="14" textLength="100" lengthAdjust="spacingAndGlyphs">Technologies</text></g>
<g transform="translate(388,258) rotate(-13)"><text x="-4" y="-4" font-size="14" textLength="46" lengthAdjust="spacingAndGlyphs">Vitract</text><text x="0" y="12.5" font-size="14" textLength="100" lengthAdjust="spacingAndGlyphs">Technologies</text></g>
<g transform="translate(645,258) rotate(-13)"><text x="-4" y="-4" font-size="14" textLength="46" lengthAdjust="spacingAndGlyphs">Vitract</text><text x="0" y="12.5" font-size="14" textLength="100" lengthAdjust="spacingAndGlyphs">Technologies</text></g>
<g transform="translate(129,364) rotate(-13)"><text x="-4" y="-4" font-size="14" textLength="46" lengthAdjust="spacingAndGlyphs">Vitract</text><text x="0" y="12.5" font-size="14" textLength="100" lengthAdjust="spacingAndGlyphs">Technologies</text></g>
<g transform="translate(388,364) rotate(-13)"><text x="-4" y="-4" font-size="14" textLength="46" lengthAdjust="spacingAndGlyphs">Vitract</text><text x="0" y="12.5" font-size="14" textLength="100" lengthAdjust="spacingAndGlyphs">Technologies</text></g>
<g transform="translate(645,364) rotate(-13)"><text x="-4" y="-4" font-size="14" textLength="46" lengthAdjust="spacingAndGlyphs">Vitract</text><text x="0" y="12.5" font-size="14" textLength="100" lengthAdjust="spacingAndGlyphs">Technologies</text></g>
<g transform="translate(129,469) rotate(-13)"><text x="-4" y="-4" font-size="14" textLength="46" lengthAdjust="spacingAndGlyphs">Vitract</text><text x="0" y="12.5" font-size="14" textLength="100" lengthAdjust="spacingAndGlyphs">Technologies</text></g>
<g transform="translate(388,469) rotate(-13)"><text x="-4" y="-4" font-size="14" textLength="46" lengthAdjust="spacingAndGlyphs">Vitract</text><text x="0" y="12.5" font-size="14" textLength="100" lengthAdjust="spacingAndGlyphs">Technologies</text></g>
<g transform="translate(645,469) rotate(-13)"><text x="-4" y="-4" font-size="14" textLength="46" lengthAdjust="spacingAndGlyphs">Vitract</text><text x="0" y="12.5" font-size="14" textLength="100" lengthAdjust="spacingAndGlyphs">Technologies</text></g>
<g transform="translate(129,574) rotate(-13)"><text x="-4" y="-4" font-size="14" textLength="46" lengthAdjust="spacingAndGlyphs">Vitract</text><text x="0" y="12.5" font-size="14" textLength="100" lengthAdjust="spacingAndGlyphs">Technologies</text></g>
<g transform="translate(388,574) rotate(-13)"><text x="-4" y="-4" font-size="14" textLength="46" lengthAdjust="spacingAndGlyphs">Vitract</text><text x="0" y="12.5" font-size="14" textLength="100" lengthAdjust="spacingAndGlyphs">Technologies</text></g>
<g transform="translate(645,574) rotate(-13)"><text x="-4" y="-4" font-size="14" textLength="46" lengthAdjust="spacingAndGlyphs">Vitract</text><text x="0" y="12.5" font-size="14" textLength="100" lengthAdjust="spacingAndGlyphs">Technologies</text></g>
<g transform="translate(129,680) rotate(-13)"><text x="-4" y="-4" font-size="14" textLength="46" lengthAdjust="spacingAndGlyphs">Vitract</text><text x="0" y="12.5" font-size="14" textLength="100" lengthAdjust="spacingAndGlyphs">Technologies</text></g>
<g transform="translate(388,680) rotate(-13)"><text x="-4" y="-4" font-size="14" textLength="46" lengthAdjust="spacingAndGlyphs">Vitract</text><text x="0" y="12.5" font-size="14" textLength="100" lengthAdjust="spacingAndGlyphs">Technologies</text></g>
<g transform="translate(645,680) rotate(-13)"><text x="-4" y="-4" font-size="14" textLength="46" lengthAdjust="spacingAndGlyphs">Vitract</text><text x="0" y="12.5" font-size="14" textLength="100" lengthAdjust="spacingAndGlyphs">Technologies</text></g>
<g transform="translate(129,786) rotate(-13)"><text x="-4" y="-4" font-size="14" textLength="46" lengthAdjust="spacingAndGlyphs">Vitract</text><text x="0" y="12.5" font-size="14" textLength="100" lengthAdjust="spacingAndGlyphs">Technologies</text></g>
<g transform="translate(388,786) rotate(-13)"><text x="-4" y="-4" font-size="14" textLength="46" lengthAdjust="spacingAndGlyphs">Vitract</text><text x="0" y="12.5" font-size="14" textLength="100" lengthAdjust="spacingAndGlyphs">Technologies</text></g>
<g transform="translate(645,786) rotate(-13)"><text x="-4" y="-4" font-size="14" textLength="46" lengthAdjust="spacingAndGlyphs">Vitract</text><text x="0" y="12.5" font-size="14" textLength="100" lengthAdjust="spacingAndGlyphs">Technologies</text></g>
<g transform="translate(129,891) rotate(-13)"><text x="-4" y="-4" font-size="14" textLength="46" lengthAdjust="spacingAndGlyphs">Vitract</text><text x="0" y="12.5" font-size="14" textLength="100" lengthAdjust="spacingAndGlyphs">Technologies</text></g>
<g transform="translate(388,891) rotate(-13)"><text x="-4" y="-4" font-size="14" textLength="46" lengthAdjust="spacingAndGlyphs">Vitract</text><text x="0" y="12.5" font-size="14" textLength="100" lengthAdjust="spacingAndGlyphs">Technologies</text></g>
<g transform="translate(645,891) rotate(-13)"><text x="-4" y="-4" font-size="14" textLength="46" lengthAdjust="spacingAndGlyphs">Vitract</text><text x="0" y="12.5" font-size="14" textLength="100" lengthAdjust="spacingAndGlyphs">Technologies</text></g>
<g transform="translate(129,996) rotate(-13)"><text x="-4" y="-4" font-size="14" textLength="46" lengthAdjust="spacingAndGlyphs">Vitract</text><text x="0" y="12.5" font-size="14" textLength="100" lengthAdjust="spacingAndGlyphs">Technologies</text></g>
<g transform="translate(388,996) rotate(-13)"><text x="-4" y="-4" font-size="14" textLength="46" lengthAdjust="spacingAndGlyphs">Vitract</text><text x="0" y="12.5" font-size="14" textLength="100" lengthAdjust="spacingAndGlyphs">Technologies</text></g>
<g transform="translate(645,996) rotate(-13)"><text x="-4" y="-4" font-size="14" textLength="46" lengthAdjust="spacingAndGlyphs">Vitract</text><text x="0" y="12.5" font-size="14" textLength="100" lengthAdjust="spacingAndGlyphs">Technologies</text></g>
<g transform="translate(129,1102) rotate(-13)"><text x="-4" y="-4" font-size="14" textLength="46" lengthAdjust="spacingAndGlyphs">Vitract</text><text x="0" y="12.5" font-size="14" textLength="100" lengthAdjust="spacingAndGlyphs">Technologies</text></g>
<g transform="translate(388,1102) rotate(-13)"><text x="-4" y="-4" font-size="14" textLength="46" lengthAdjust="spacingAndGlyphs">Vitract</text><text x="0" y="12.5" font-size="14" textLength="100" lengthAdjust="spacingAndGlyphs">Technologies</text></g>
<g transform="translate(645,1102) rotate(-13)"><text x="-4" y="-4" font-size="14" textLength="46" lengthAdjust="spacingAndGlyphs">Vitract</text><text x="0" y="12.5" font-size="14" textLength="100" lengthAdjust="spacingAndGlyphs">Technologies</text></g>
</g>

</svg>
</body></html>
